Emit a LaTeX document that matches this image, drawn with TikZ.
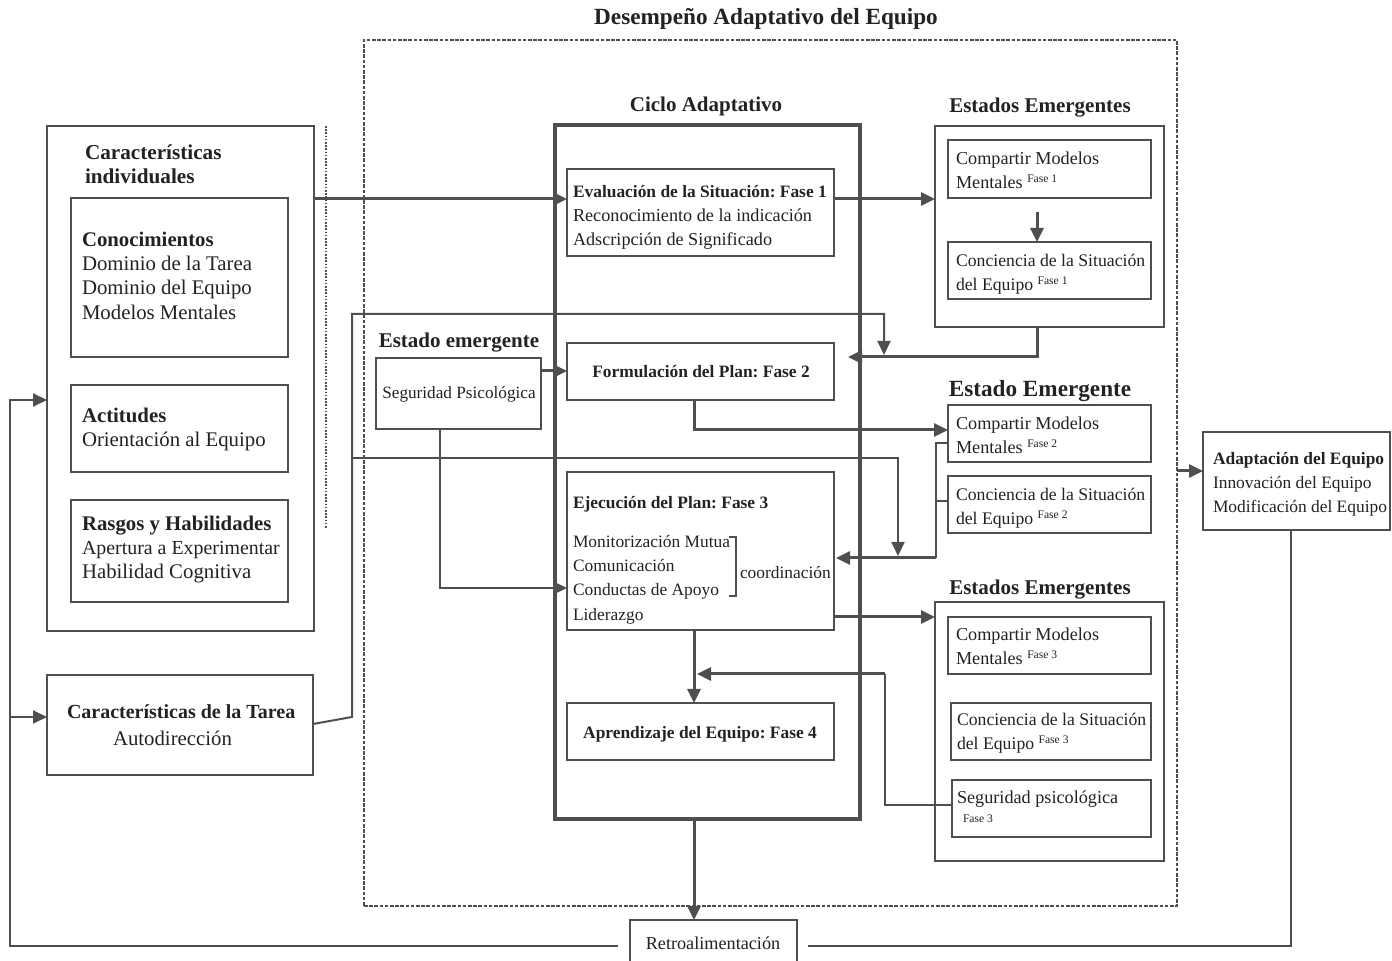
\documentclass[tikz,border=0pt]{standalone}
\usepackage{fontspec}
\setmainfont{Liberation Serif}
\usetikzlibrary{arrows.meta,fit,calc}
\definecolor{ln}{HTML}{4F4F4F}
\definecolor{tx}{HTML}{222222}
\frenchspacing
\newcommand\fbig{\fontsize{10.4}{12.2}\selectfont}
\newcommand\fsm{\fontsize{9.1}{12.2}\selectfont}
\newcommand\fsc{\fontsize{8.85}{12.2}\selectfont}
\newcommand\fsn{\fontsize{8.7}{12.2}\selectfont}
\newcommand\fsb{\fontsize{8.7}{12.2}\selectfont\bfseries}
\newcommand\fase[1]{\raisebox{2.8pt}{\fontsize{5.8}{6}\selectfont Fase #1}}
\begin{document}
\begin{tikzpicture}[x=0.5pt,y=-0.5pt,
  box/.style={draw=ln, line width=1pt, inner sep=0pt, outer sep=0pt},
  cyc/.style={draw=ln, line width=1.8pt, inner sep=0pt, outer sep=0pt},
  dashbox/.style={draw=ln, line width=1.1pt, dash pattern=on 1.8pt off 0.8pt, inner sep=0pt, outer sep=0pt},
  thinln/.style={draw=ln, line width=1pt},
  thickln/.style={draw=ln, line width=1.5pt},
  tip/.style={-{Triangle[length=7pt,width=6.5pt]}},
  txt/.style={inner sep=0pt, outer sep=0pt, text=tx, align=left, anchor=north west},
  ctr/.style={inner sep=0pt, outer sep=0pt, text=tx, anchor=base},
]
\useasboundingbox (0,0) rectangle (1392,961);

% helper rows and columns (pixel grid)
\foreach \v in {199,314,355,357,371,400,430,443,458,471,501,556,558,588,617,674,717,724,805,946,528}
  \coordinate (y\v) at (0,\v);
\foreach \u in {10,326,352,440,694,697,884,885,898,936,1037,1291}
  \coordinate (x\u) at (\u,0);

% ---------- frames and boxes ----------
\node[dashbox, fit={(364,40) (1177,906)}] (dash) {};
\node[box, fit={(47,126) (314,631)}] (left) {};
\node[box, fit={(71,198) (288,357)}] (know) {};
\node[box, fit={(71,385) (288,472)}] (att) {};
\node[box, fit={(71,500) (288,602)}] (traits) {};
\node[box, fit={(47,675) (313,775)}] (tarea) {};
\node[cyc, fit={(555,125) (860,819)}] (cyc) {};
\node[box, fit={(567,169) (834,256)}] (f1) {};
\node[box, fit={(567,343) (834,400)}] (f2) {};
\node[box, fit={(567,472) (834,630)}] (f3) {};
\node[box, fit={(567,703) (834,760)}] (f4) {};
\node[box, fit={(376,358) (541,429)}] (seg) {};
\node[box, fit={(935,126) (1164,327)}] (ee1) {};
\node[box, fit={(948,140) (1151,198)}] (cm1) {};
\node[box, fit={(948,242) (1151,299)}] (cs1) {};
\node[box, fit={(948,405) (1151,462)}] (cm2) {};
\node[box, fit={(948,476) (1151,533)}] (cs2) {};
\node[box, fit={(935,602) (1164,861)}] (ee3) {};
\node[box, fit={(948,617) (1151,674)}] (cm3) {};
\node[box, fit={(951,703) (1151,760)}] (cs3) {};
\node[box, fit={(952,780) (1151,837)}] (sp3) {};
\node[box, fit={(1203,432) (1390,530)}] (adapt) {};
\node[box, fill=white, fit={(630,920) (797,980)}] (retro) {};

% dotted separator beside the individual characteristics
\draw[ln, line width=0.8pt, dash pattern=on 0.8pt off 0.8pt] (x326 |- left.north) -- (x326 |- y528);

% ---------- texts ----------
\node[ctr, font=\fontsize{11.6}{14}\selectfont\bfseries] (t-title) at (766,25) {Desempeño Adaptativo del Equipo};
\node[txt, font=\fontsize{10.6}{12.2}\selectfont\bfseries] (t-ind) at (85,142) {\strut Características\\individuales};
\node[txt, font=\fbig] (t-know) at (82,229) {\strut\textbf{Conocimientos}\\Dominio de la Tarea\\Dominio del Equipo\\Modelos Mentales};
\node[txt, font=\fbig] (t-att) at (82,405) {\strut\textbf{Actitudes}\\Orientación al Equipo};
\node[txt, font=\fbig] (t-traits) at (82,513) {\strut\textbf{Rasgos y Habilidades}\\{\fontsize{9.95}{12.2}\selectfont Apertura a Experimentar}\\Habilidad Cognitiva};
\node[txt, font=\fbig] (t-tarea) at (67,701) {\strut{\fontsize{10}{12.2}\selectfont\bfseries Características de la Tarea}\\[1.3pt]\hspace*{23pt}Autodirección};

\node[ctr, font=\fontsize{10.5}{12.2}\selectfont\bfseries] (t-cyc) at (706,112) {Ciclo Adaptativo};
\node[ctr, font=\fontsize{10.5}{12.2}\selectfont\bfseries] (t-ee1) at (1040,113) {Estados Emergentes};
\node[ctr, font=\fontsize{11.6}{12.2}\selectfont\bfseries] (t-ee2) at (1040,397) {Estado Emergente};
\node[ctr, font=\fontsize{10.5}{12.2}\selectfont\bfseries] (t-ee3) at (1040,595) {Estados Emergentes};
\node[ctr, font=\fontsize{10.5}{12.2}\selectfont\bfseries] (t-seg-h) at (459,348) {Estado emergente};

\node[txt, font=\fsm] (t-f1) at (573,180) {\strut{\fsb Evaluación de la Situación: Fase 1}\\Reconocimiento de la indicación\\Adscripción de Significado};
\node[ctr, font=\fsb] (t-f2) at (701,378) {Formulación del Plan: Fase 2};
\node[txt, font=\fsn] (t-f3) at (573,491) {\strut{\fsb Ejecución del Plan: Fase 3}\\[7.3pt]Monitorización Mutua\\Comunicación\\Conductas de Apoyo\\Liderazgo};
\node[ctr, font=\fsn, anchor=base west] (t-coord) at (740,579) {coordinación};
\draw[ln, line width=0.6pt] (729,537) -- (736,537) -- (736,596) -- (729,596);
\node[ctr, font=\fsb] (t-f4) at (700,739) {Aprendizaje del Equipo: Fase 4};
\node[ctr, font=\fontsize{8.6}{12.2}\selectfont] (t-seg) at (459,399) {Seguridad Psicológica};

\node[txt, font=\fsm] (t-cm1) at (956,147) {\strut Compartir Modelos\\Mentales \fase{1}};
\node[txt, font=\fsc] (t-cs1) at (956,249) {\strut Conciencia de la Situación\\del Equipo \fase{1}};
\node[txt, font=\fsm] (t-cm2) at (956,412) {\strut Compartir Modelos\\Mentales \fase{2}};
\node[txt, font=\fsc] (t-cs2) at (956,483) {\strut Conciencia de la Situación\\del Equipo \fase{2}};
\node[txt, font=\fsm] (t-cm3) at (956,623) {\strut Compartir Modelos\\Mentales \fase{3}};
\node[txt, font=\fsc] (t-cs3) at (957,708) {\strut Conciencia de la Situación\\del Equipo \fase{3}};
\node[ctr, font=\fsm, anchor=base west] (t-sp3) at (957,804) {Seguridad psicológica};
\node[ctr, font=\fontsize{5.8}{6}\selectfont, anchor=base west] (t-sp3f) at (963,822) {Fase 3};

\node[txt, font=\fsn] (t-adapt) at (1213,447) {\strut\textbf{Adaptación del Equipo}\\Innovación del Equipo\\Modificación del Equipo};
\node[ctr, font=\fsm] (t-retro) at (713,949) {Retroalimentación};

% ---------- connectors ----------
\draw[thickln,tip] (left.east |- y199) -- (f1.west |- y199);
\draw[thickln,tip] (f1.east |- y199) -- (ee1.west |- y199);
\draw[thickln,tip] ($(x1037 |- cm1.south)+(0,14)$) -- (x1037 |- cs1.north);
\draw[thickln,tip] (x1037 |- ee1.south) -- (x1037 |- y357) -- ($(f2.east |- y357)+(14,0)$);

\draw[thinln,tip] (tarea.east |- y724) -- (x352 |- y717) -- (x352 |- y314) -- (x884 |- y314) -- (x884 |- y355);
\draw[thinln,tip] (x352 |- y458) -- (x898 |- y458) -- (x898 |- y556);

\draw[thinln] (cm2.west |- y443) -- (x936 |- y443) -- (x936 |- y558);
\draw[thinln] (cs2.west |- y501) -- (x936 |- y501);
\draw[thickln,tip] (x936 |- y558) -- ($(f3.east |- y558)+(2,0)$);

\draw[thickln,tip] (x694 |- f2.south) -- (x694 |- y430) -- (cm2.west |- y430);
\draw[thickln,tip] (seg.east |- y371) -- (f2.west |- y371);
\draw[thinln,tip] (x440 |- seg.south) -- (x440 |- y588) -- (f3.west |- y588);

\draw[thickln,tip] (f3.east |- y617) -- (ee3.west |- y617);
\draw[thickln,tip] (x694 |- f3.south) -- (x694 |- f4.north);
\draw[thinln] (sp3.west |- y805) -- (x885 |- y805) -- (x885 |- y674);
\draw[thickln,tip] (x885 |- y674) -- (x697 |- y674);

\draw[thickln,tip] (x694 |- cyc.south) -- (x694 |- retro.north);
\draw[thickln,tip] (dash.east |- y471) -- (adapt.west |- y471);
\draw[thinln] (x1291 |- adapt.south) -- (x1291 |- y946) -- ($(retro.east |- y946)+(11,0)$);
\draw[thinln,tip] ($(retro.west |- y946)+(-12,0)$) -- (x10 |- y946) -- (x10 |- y400) -- (left.west |- y400);
\draw[thinln,tip] (x10 |- y717) -- (tarea.west |- y717);
\end{tikzpicture}
\end{document}
